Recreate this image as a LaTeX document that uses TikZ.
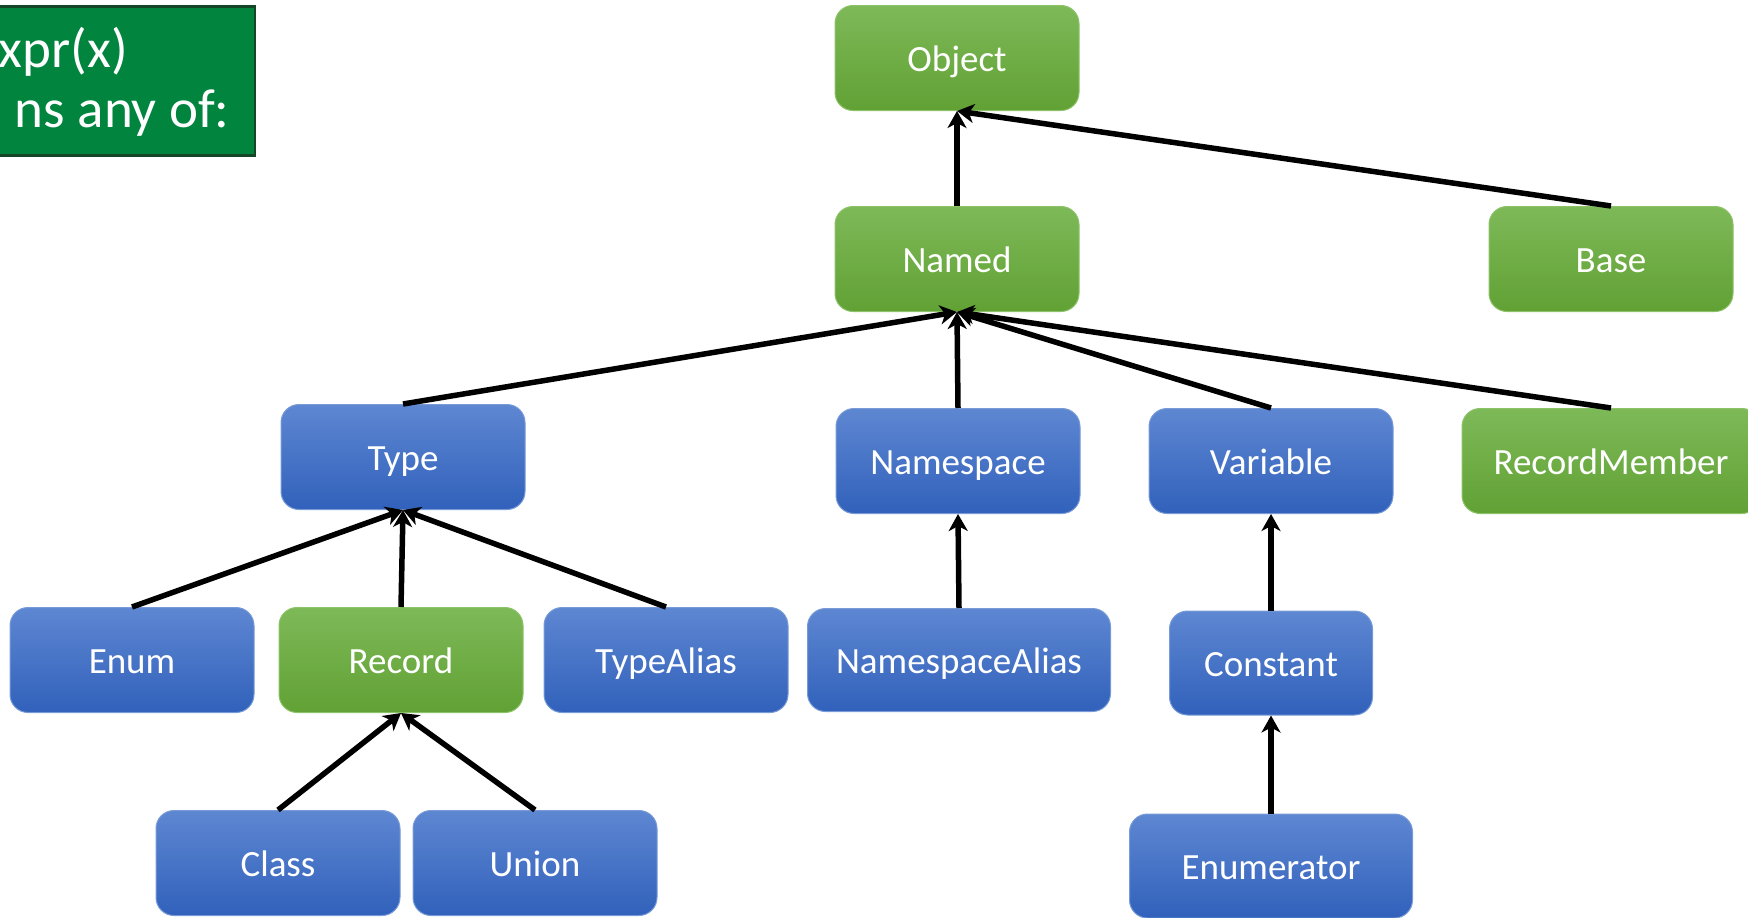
\documentclass[tikz,border=0pt]{standalone}
\usepackage{fontspec}
\setmainfont{Carlito}
\usetikzlibrary{arrows.meta}

\definecolor{grnTop}{RGB}{126,185,88}
\definecolor{grnBot}{RGB}{97,161,52}
\definecolor{grnEdge}{RGB}{140,195,105}
\definecolor{bluTop}{RGB}{94,135,210}
\definecolor{bluBot}{RGB}{49,97,187}
\definecolor{bluEdge}{RGB}{120,155,215}
\definecolor{bannerFill}{RGB}{0,132,62}
\definecolor{bannerEdge}{RGB}{22,70,40}

\tikzset{
  box/.style={rounded corners=18pt, minimum height=105pt, minimum width=244pt,
    inner sep=0pt, text=white, font=\fontsize{37}{44}\selectfont, line width=1pt,
    text height=33pt, text depth=7pt},
  greenbox/.style={box, top color=grnTop, bottom color=grnBot, draw=grnEdge},
  bluebox/.style={box, top color=bluTop, bottom color=bluBot, draw=bluEdge},
  inherit/.style={line width=5.5pt, -{Stealth[length=17pt,width=19pt,inset=5pt]}},
  bannertext/.style={text=white, font=\fontsize{55}{66}\selectfont, inner sep=0pt, anchor=base east},
}

\begin{document}
\begin{tikzpicture}[x=1pt,y=-1pt]
  \useasboundingbox (0,0) rectangle (1748,918);
  \clip (0,0) rectangle (1748,918);

  % banner box, running off the left edge
  \node[fill=bannerFill, draw=bannerEdge, line width=2.5pt, minimum width=560pt,
        minimum height=149pt, anchor=north east, inner sep=0pt] (banner) at (256,5) {};
  \node[bannertext] (line1) at (128,67) {xpr(x)};
  \node[bannertext] (line2) at (230,127) {ns any of:};

  % class hierarchy
  \node[greenbox] (object)    at (957,58)  {Object};
  \node[greenbox] (named)     at (957,259) {Named};
  \node[greenbox] (base)      at (1611,259) {Base};

  \node[bluebox]  (type)      at (403,457) {Type};
  \node[bluebox]  (namespace) at (958,461) {Namespace};
  \node[bluebox]  (variable)  at (1271,461) {Variable};
  \node[greenbox, minimum width=298pt] (recmember) at (1611,461) {RecordMember};

  \node[bluebox]  (enum)      at (132,660) {Enum};
  \node[greenbox] (record)    at (401,660) {Record};
  \node[bluebox]  (typealias) at (666,660) {TypeAlias};
  \node[bluebox, minimum width=303pt, minimum height=103pt] (nsalias) at (959,660) {NamespaceAlias};
  \node[bluebox, minimum width=203pt, minimum height=104pt] (constant) at (1271,663) {Constant};

  \node[bluebox]  (class)     at (278,863) {Class};
  \node[bluebox]  (union)     at (535,863) {Union};
  \node[bluebox, minimum width=283pt, minimum height=104pt] (enumerator) at (1271,866) {Enumerator};

  % inheritance arrows, child top to parent bottom
  \draw[inherit] (named.north)      -- (object.south);
  \draw[inherit] (base.north)       -- (object.south);
  \draw[inherit] (type.north)       -- (named.south);
  \draw[inherit] (namespace.north)  -- (named.south);
  \draw[inherit] (variable.north)   -- (named.south);
  \draw[inherit] (recmember.north)  -- (named.south);
  \draw[inherit] (enum.north)       -- (type.south);
  \draw[inherit] (record.north)     -- (type.south);
  \draw[inherit] (typealias.north)  -- (type.south);
  \draw[inherit] (class.north)      -- (record.south);
  \draw[inherit] (union.north)      -- (record.south);
  \draw[inherit] (nsalias.north)    -- (namespace.south);
  \draw[inherit] (constant.north)   -- (variable.south);
  \draw[inherit] (enumerator.north) -- (constant.south);
\end{tikzpicture}
\end{document}
